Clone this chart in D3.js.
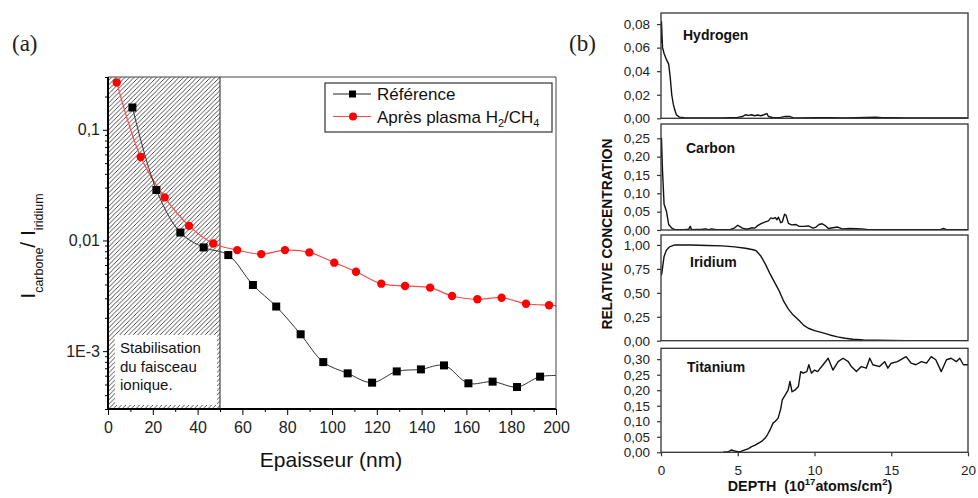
<!DOCTYPE html>
<html><head><meta charset="utf-8">
<script src="https://cdn.jsdelivr.net/npm/d3@7"></script>
<style>
body{margin:0;background:#fff}
svg{display:block}
text{font-family:"Liberation Sans",Arial,sans-serif}
</style>
</head><body>
<svg id="c" width="978" height="498"></svg>
<script>
// ---------------- Panel (a) data ----------------
const thickRef   = [10.9,21.6,32.3,42.7,53.7,64.7,75.1,86,96.1,107,117.9,128.9,139.7,150,160.9,171.7,182.6,192.9,203.8];
const ratioRef   = [0.159,0.0286,0.0118,0.00865,0.00738,0.00396,0.00253,0.00142,0.000796,0.00063,0.000519,0.000656,0.000684,0.000743,0.000512,0.00053,0.000474,0.000588,0.0006];
const thickPlasma = [3.9,14.6,25.3,36.2,47,57.7,68.4,79,89.9,101,110.7,122,132.6,143.8,153.6,164.9,175.7,186.6,196.9,207.5];
const ratioPlasma = [0.268,0.0567,0.0245,0.01355,0.0094,0.00818,0.00753,0.00818,0.0078,0.0063,0.00522,0.00407,0.00388,0.00375,0.00315,0.00294,0.00304,0.00268,0.0026,0.00255];
const xTicksA = [0,20,40,60,80,100,120,140,160,180,200];
const yTicksA = [0.1,0.01,0.001];
const yTickLabelsA = ["0,1","0,01","1E-3"];
const stabZone = [0,50];
const seriesNames = ["Référence","Après plasma H"];

// ---------------- Panel (b) data ----------------
const hDepth = [0,0.03,0.1,0.2,0.35,0.5,0.6,0.7,0.8,0.9,1.0,1.2,1.5,2,3,4,4.5,5,5.3,5.5,5.7,5.9,6.1,6.3,6.5,6.7,6.9,7.0,7.3,7.8,8.1,8.4,8.6,9,10,11,12,13.4,14,14.4,15,16,18,20];
const hConc  = [0.064,0.082,0.06,0.055,0.05,0.046,0.035,0.02,0.012,0.007,0.003,0.001,0.0005,0.0004,0.0003,0.0002,0.0006,0.0008,0.0015,0.003,0.0025,0.003,0.0022,0.0028,0.0022,0.003,0.004,0.0015,0.0005,0.0008,0.0016,0.0015,0.0005,0.0004,0.0005,0.0006,0.0004,0.0008,0.0009,0.0006,0.0005,0.0004,0.0003,0.0003];
const cDepth = [0,0.03,0.1,0.2,0.35,0.5,0.7,0.9,1.5,1.8,1.9,2.0,2.7,2.9,3.1,3.3,3.6,4.5,4.8,5.0,5.3,5.6,5.9,6.1,6.3,6.55,6.8,7.0,7.15,7.3,7.45,7.55,7.65,7.8,7.9,8.05,8.15,8.3,8.5,8.8,9.0,9.3,9.6,9.9,10.1,10.3,10.5,10.7,10.9,11.2,11.5,11.8,12.3,13.1,13.5,15,18.2,18.4,18.6,20];
const cConc  = [0.2,0.25,0.16,0.07,0.052,0.015,0.005,0.001,0.001,0.002,0.01,0.001,0.002,0.003,0.001,0.003,0.001,0.001,0.006,0.013,0.005,0.002,0.006,0.005,0.012,0.018,0.022,0.025,0.033,0.031,0.034,0.028,0.035,0.02,0.022,0.043,0.04,0.018,0.014,0.015,0.01,0.01,0.011,0.005,0.008,0.015,0.017,0.012,0.004,0.006,0.008,0.003,0.004,0.003,0.001,0.001,0.001,0.004,0.001,0.001];
const irDepth = [0,0.05,0.1,0.2,0.35,0.55,0.9,2,3,4,4.8,5.5,6.0,6.2,6.5,6.8,7.1,7.4,7.7,8.0,8.3,8.6,9.0,9.3,9.6,10.0,10.5,11.0,11.5,12.0,12.5,13.2,14,15,16,20];
const irConc  = [0.68,0.7,0.76,0.88,0.945,0.98,1.0,1.0,0.995,0.99,0.98,0.965,0.95,0.94,0.885,0.8,0.7,0.61,0.52,0.41,0.33,0.27,0.21,0.16,0.13,0.105,0.085,0.06,0.04,0.025,0.015,0.008,0.005,0.003,0.001,0.0];
const tiDepth = [4.05,4.4,4.6,4.8,5.0,5.2,5.47,5.7,5.9,6.1,6.33,6.55,6.77,6.95,7.1,7.3,7.45,7.63,7.8,7.9,8.1,8.28,8.4,8.54,8.72,8.95,9.1,9.26,9.5,9.63,9.8,10.0,10.2,10.56,10.89,11.2,11.54,11.86,12.2,12.4,12.73,13.05,13.37,13.6,13.8,14.24,14.57,14.78,15.0,15.4,15.97,16.3,16.6,16.96,17.3,17.6,17.9,18.26,18.6,18.9,19.24,19.46,19.7,20];
const tiConc  = [0.0,0.002,0.0075,0.004,0.002,0.003,0.008,0.012,0.018,0.022,0.029,0.035,0.045,0.058,0.072,0.094,0.1,0.11,0.14,0.169,0.185,0.2,0.228,0.195,0.2,0.212,0.26,0.255,0.26,0.282,0.255,0.265,0.26,0.282,0.303,0.265,0.292,0.303,0.292,0.276,0.26,0.276,0.271,0.303,0.282,0.276,0.292,0.271,0.287,0.292,0.308,0.287,0.282,0.292,0.287,0.308,0.298,0.26,0.298,0.303,0.292,0.303,0.282,0.282];
const elementNames = ["Hydrogen","Carbon","Iridium","Titanium"];
const elementMax   = [0.0894,0.289,1.104,0.335];
const elementTicks = [[0,0.02,0.04,0.06,0.08],[0,0.05,0.1,0.15,0.2,0.25],[0,0.25,0.5,0.75,1.0],[0,0.05,0.1,0.15,0.2,0.25,0.3]];
const depthTicks = [0,5,10,15,20];

const SANS = "'Liberation Sans',Arial,sans-serif";
const svg = d3.select("#c");
const defs = svg.append("defs");

// ================= Panel (a) =================
const L = {left:108,right:556,top:77,bottom:409};
const xA = d3.scaleLinear().domain([0,200]).range([L.left,L.right]);
const yA = d3.scaleLog().domain([3e-4,0.3]).range([L.bottom,L.top]);

defs.append("clipPath").attr("id","clipA").append("rect")
  .attr("x",L.left).attr("y",L.top).attr("width",L.right-L.left).attr("height",L.bottom-L.top);
const pat = defs.append("pattern").attr("id","hatch").attr("patternUnits","userSpaceOnUse")
  .attr("width",4.5).attr("height",4.5);
pat.append("path").attr("d","M-1,1 L1,-1 M0,4.5 L4.5,0 M3.5,5.5 L5.5,3.5")
  .attr("stroke","#222").attr("stroke-width",0.8);

svg.append("text").attr("x",12).attr("y",51)
  .style("font-family","'Liberation Serif',serif").attr("font-size",23).attr("fill","#222").text("(a)");

// hatched zone
svg.append("rect").attr("x",xA(stabZone[0])).attr("y",L.top)
  .attr("width",xA(stabZone[1])-xA(stabZone[0])).attr("height",L.bottom-L.top)
  .attr("fill","url(#hatch)");
svg.append("line").attr("x1",xA(stabZone[1])).attr("x2",xA(stabZone[1]))
  .attr("y1",L.top).attr("y2",L.bottom).attr("stroke","#222").attr("stroke-width",1);
svg.append("rect").attr("x",115).attr("y",335).attr("width",102).attr("height",70).attr("fill","#fff");
const st = svg.append("text").attr("font-size",15).attr("fill","#111");
["Stabilisation","du faisceau","ionique."].forEach((t,i)=>{
  st.append("tspan").attr("x",120).attr("y",353+i*18.5).text(t);
});

const gA = svg.append("g").attr("clip-path","url(#clipA)");
const lineA = d3.line().curve(d3.curveCatmullRom.alpha(0.5)).x(d=>xA(d[0])).y(d=>yA(d[1]));
const refPts = thickRef.map((t,i)=>[t,ratioRef[i]]);
const plaPts = thickPlasma.map((t,i)=>[t,ratioPlasma[i]]);
gA.append("path").attr("d",lineA(plaPts)).attr("fill","none").attr("stroke","#ff4a4a").attr("stroke-width",1.2);
gA.append("path").attr("d",lineA(refPts)).attr("fill","none").attr("stroke","#333").attr("stroke-width",1);
gA.selectAll(".sq").data(refPts).join("rect").attr("x",d=>xA(d[0])-4).attr("y",d=>yA(d[1])-4)
  .attr("width",8).attr("height",8).attr("fill","#000");
gA.selectAll(".ci").data(plaPts).join("circle").attr("cx",d=>xA(d[0])).attr("cy",d=>yA(d[1]))
  .attr("r",4.2).attr("fill","#f00");

// frame (top/right thin)
svg.append("path").attr("d",`M${L.left},${L.top}H${L.right}V${L.bottom}`).attr("fill","none")
  .attr("stroke","#444").attr("stroke-width",1);

// axes
const minorY = [];
[1e-4,1e-3,1e-2,1e-1].forEach(p=>{for(let k=2;k<=9;k++){const v=k*p; if(v>=3e-4-1e-12 && v<=0.3+1e-9) minorY.push(v);}});
const yAx = svg.append("g").attr("transform",`translate(${L.left},0)`)
  .call(d3.axisLeft(yA).tickValues(yTicksA).tickSize(5).tickPadding(3).tickFormat((d,i)=>yTickLabelsA[i]));
svg.append("g").attr("transform",`translate(${L.left},0)`)
  .call(d3.axisLeft(yA).tickValues(minorY).tickSize(3).tickFormat(""))
  .call(g=>g.select(".domain").remove());
yAx.select(".domain").attr("stroke-width",2).attr("d",`M0,${L.top}V${L.bottom}`);
yAx.selectAll("text").attr("font-size",16).attr("fill","#222").style("font-family",SANS);

const xAx = svg.append("g").attr("transform",`translate(0,${L.bottom})`)
  .call(d3.axisBottom(xA).tickValues(xTicksA).tickSize(6).tickPadding(7).tickFormat(d3.format("d")));
svg.append("g").attr("transform",`translate(0,${L.bottom})`)
  .call(d3.axisBottom(xA).tickValues(xTicksA.slice(0,-1).map(v=>v+10)).tickSize(3).tickFormat(""))
  .call(g=>g.select(".domain").remove());
xAx.select(".domain").attr("stroke-width",2).attr("d",`M${L.left},0H${L.right}`);
xAx.selectAll("text").attr("font-size",16).attr("fill","#222").style("font-family",SANS);

svg.append("text").attr("x",331).attr("y",467).attr("text-anchor","middle")
  .attr("font-size",21).attr("fill","#111").text("Epaisseur (nm)");

const yl = svg.append("text").attr("transform","translate(35,246) rotate(-90)").attr("text-anchor","middle").attr("fill","#111");
yl.append("tspan").attr("font-size",21).text("I");
yl.append("tspan").attr("font-size",12.5).attr("dy",8).text("carbone");
yl.append("tspan").attr("font-size",21).attr("dy",-8).text("/ I");
yl.append("tspan").attr("font-size",12.5).attr("dy",8).text("iridium");

// legend
svg.append("rect").attr("x",325).attr("y",83).attr("width",227).attr("height",49)
  .attr("fill","#fff").attr("stroke","#333").attr("stroke-width",1.2);
const legY = [94,116.5];
svg.append("line").attr("x1",333).attr("x2",371).attr("y1",legY[0]).attr("y2",legY[0]).attr("stroke","#222").attr("stroke-width",1);
svg.append("rect").attr("x",349).attr("y",legY[0]-3.5).attr("width",7).attr("height",7).attr("fill","#000");
svg.append("line").attr("x1",333).attr("x2",371).attr("y1",legY[1]).attr("y2",legY[1]).attr("stroke","#ff4a4a").attr("stroke-width",1.2);
svg.append("circle").attr("cx",353).attr("cy",legY[1]).attr("r",4).attr("fill","#f00");
svg.append("text").attr("x",377).attr("y",legY[0]+6).attr("font-size",17).attr("fill","#111").text(seriesNames[0]);
const lt = svg.append("text").attr("x",377).attr("y",legY[1]+6).attr("font-size",17).attr("fill","#111");
lt.append("tspan").text(seriesNames[1]);
lt.append("tspan").attr("font-size",11).attr("dy",4).text("2");
lt.append("tspan").attr("dy",-4).text("/CH");
lt.append("tspan").attr("font-size",11).attr("dy",4).text("4");

// ================= Panel (b) =================
svg.append("text").attr("x",569).attr("y",51).style("font-family","'Liberation Serif',serif")
  .attr("font-size",23).attr("fill","#222").text("(b)");

const xB = d3.scaleLinear().domain([0,20]).range([661,968]);
const panelBox = [[13,118.3],[124,230],[235,340.7],[348.3,452.3]];
const labelPos = [[683,40],[686,153],[690,266.5],[687,371.5]];
const bDepth = [hDepth,cDepth,irDepth,tiDepth];
const bConc = [hConc,cConc,irConc,tiConc];
const fmtB = v=>d3.format(".2f")(v).replace(".",",");

elementNames.forEach((name,i)=>{
  const [top,bot] = panelBox[i];
  const y = d3.scaleLinear().domain([0,elementMax[i]]).range([bot,top]);
  const pts = bDepth[i].map((d,j)=>[d,bConc[i][j]]);
  const cid = "clipB"+i;
  defs.append("clipPath").attr("id",cid).append("rect").attr("x",661).attr("y",top).attr("width",307).attr("height",bot-top);
  svg.append("path").attr("clip-path",`url(#${cid})`)
    .attr("d",d3.line().x(d=>xB(d[0])).y(d=>y(d[1]))(pts))
    .attr("fill","none").attr("stroke","#111").attr("stroke-width",1.4).attr("stroke-linejoin","round");
  svg.append("rect").attr("x",661).attr("y",top).attr("width",307).attr("height",bot-top)
    .attr("fill","none").attr("stroke","#333").attr("stroke-width",1.3);
  const ax = svg.append("g").attr("transform","translate(661,0)")
    .call(d3.axisLeft(y).tickValues(elementTicks[i]).tickSize(4).tickPadding(7).tickFormat(fmtB));
  ax.select(".domain").remove();
  ax.selectAll("line").attr("stroke","#333").attr("stroke-width",1.2);
  ax.selectAll("text").attr("font-size",13.5).attr("fill","#222").style("font-family",SANS);
  svg.append("text").attr("x",labelPos[i][0]).attr("y",labelPos[i][1]).attr("font-size",14)
    .attr("font-weight","bold").attr("fill","#111").text(name);
  if(i===3){
    const bx = svg.append("g").attr("transform",`translate(0,${bot})`)
      .call(d3.axisBottom(xB).tickValues(depthTicks).tickSize(4).tickPadding(9).tickFormat(d3.format("d")));
    bx.select(".domain").remove();
    bx.selectAll("line").attr("stroke","#333").attr("stroke-width",1.2);
    bx.selectAll("text").attr("font-size",13.5).attr("fill","#222").style("font-family",SANS);
  }
});

svg.append("text").attr("transform","translate(612,234) rotate(-90)").attr("text-anchor","middle")
  .attr("font-size",13.8).attr("font-weight","bold").attr("fill","#111").text("RELATIVE CONCENTRATION");
const xl = svg.append("text").attr("x",810).attr("y",491).attr("text-anchor","middle")
  .attr("font-size",14.3).attr("font-weight","bold").attr("fill","#111");
xl.append("tspan").text("DEPTH\u00a0\u00a0(10");
xl.append("tspan").attr("font-size",9.5).attr("dy",-6).text("17");
xl.append("tspan").attr("dy",6).text("atoms/cm");
xl.append("tspan").attr("font-size",9.5).attr("dy",-6).text("2");
xl.append("tspan").attr("dy",6).text(")");
</script>
</body></html>
